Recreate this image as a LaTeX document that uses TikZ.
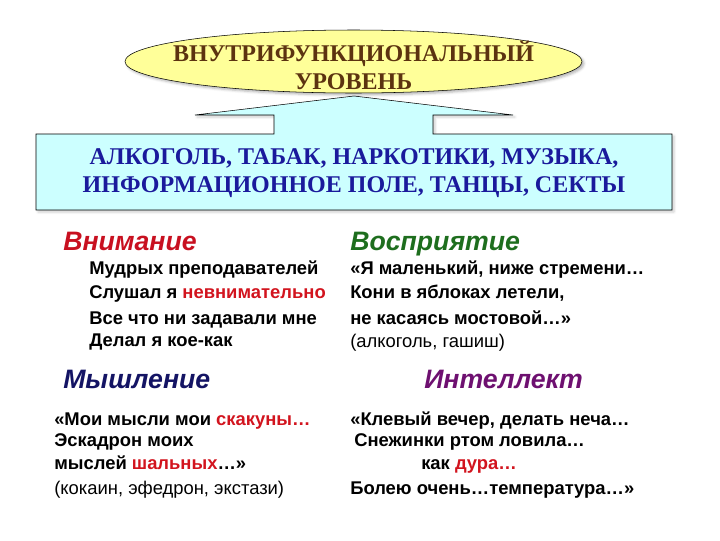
\documentclass[tikz,border=0pt]{standalone}
\usepackage{fontspec}
\setmainfont{Liberation Serif}
\setsansfont{Liberation Sans}
\usepackage{tikz}
\usetikzlibrary{shadows.blur}
\usetikzlibrary{shapes}

\definecolor{lvlyellow}{RGB}{255,255,153}
\definecolor{lvlbrown}{RGB}{92,51,16}
\definecolor{boxcyan}{RGB}{204,255,255}
\definecolor{boxblue}{RGB}{26,26,156}
\definecolor{hdred}{RGB}{200,16,32}
\definecolor{hdgreen}{RGB}{30,110,30}
\definecolor{hdnavy}{RGB}{20,20,100}
\definecolor{hdpurple}{RGB}{110,16,112}
\definecolor{wordred}{RGB}{210,20,30}

\tikzset{
  caps/.style={inner sep=0.75pt, align=center, font=\bfseries\fontsize{18}{21}\selectfont},
  head/.style={anchor=base west, inner sep=0.75pt, font=\sffamily\bfseries\itshape\fontsize{20}{24}\selectfont},
  verse/.style={anchor=base west, inner sep=0.75pt, font=\sffamily\bfseries\fontsize{13.8}{16}\selectfont},
  note/.style={anchor=base west, inner sep=0.75pt, font=\sffamily\fontsize{13.8}{16}\selectfont}
}

\begin{document}
\begin{tikzpicture}[x=0.75pt,y=0.75pt,yscale=-1,xscale=1]
\useasboundingbox (0,0) rectangle (720,540);
% level ellipse and the box below it
\draw [fill=lvlyellow, blur shadow={shadow xshift=1.5pt, shadow yshift=-1.5pt, shadow opacity=30}] (353.5,61.5) ellipse (228.5 and 31.5);
\draw [fill=boxcyan, blur shadow={shadow xshift=1.5pt, shadow yshift=-1.5pt, shadow opacity=20}] (36,134) -- (274,134) -- (274,115) -- (195,115) -- (354,96) -- (513,115) -- (433,115) -- (433,134) -- (672,134) -- (672,210) -- (36,210) -- cycle;
\draw (353.5,65) node (level) [caps, color=lvlbrown] {ВНУТРИФУНКЦИОНАЛЬНЫЙ\\УРОВЕНЬ};
\draw (354,173) node (factors) [caps, color=boxblue] {АЛКОГОЛЬ, ТАБАК, НАРКОТИКИ, МУЗЫКА,\\ИНФОРМАЦИОННОЕ ПОЛЕ, ТАНЦЫ, СЕКТЫ};
% attention
\draw (62,250) node (attn) [head, color=hdred] {Внимание};
\draw (88,274) node (attn1) [verse] {Мудрых преподавателей};
\draw (88,298) node (attn2) [verse] {Слушал я \textcolor{wordred}{невнимательно}};
\draw (88,324) node (attn3) [verse] {Все что ни задавали мне};
\draw (88,346) node (attn4) [verse] {Делал я кое-как};
% perception
\draw (349,250) node (perc) [head, color=hdgreen] {Восприятие};
\draw (349,274) node (perc1) [verse] {«Я маленький, ниже стремени…};
\draw (349,298) node (perc2) [verse] {Кони в яблоках летели,};
\draw (349,324) node (perc3) [verse] {не касаясь мостовой…»};
\draw (349,347) node (perc4) [note] {(алкоголь, гашиш)};
% thinking
\draw (62,388) node (think) [head, color=hdnavy] {Мышление};
\draw (53,425) node (think1) [verse] {«Мои мысли мои \textcolor{wordred}{скакуны…}};
\draw (53,446) node (think2) [verse] {Эскадрон моих};
\draw (53,469) node (think3) [verse] {мыслей \textcolor{wordred}{шальных}…»};
\draw (53,494) node (think4) [note] {(кокаин, эфедрон, экстази)};
% intellect
\draw (423,388) node (intel) [head, color=hdpurple] {Интеллект};
\draw (349,425) node (intel1) [verse] {«Клевый вечер, делать неча…};
\draw (353,446) node (intel2) [verse] {Снежинки ртом ловила…};
\draw (420,469) node (intel3) [verse] {как \textcolor{wordred}{дура…}};
\draw (349,494) node (intel4) [verse] {Болею очень…температура…»};
\end{tikzpicture}
\end{document}
